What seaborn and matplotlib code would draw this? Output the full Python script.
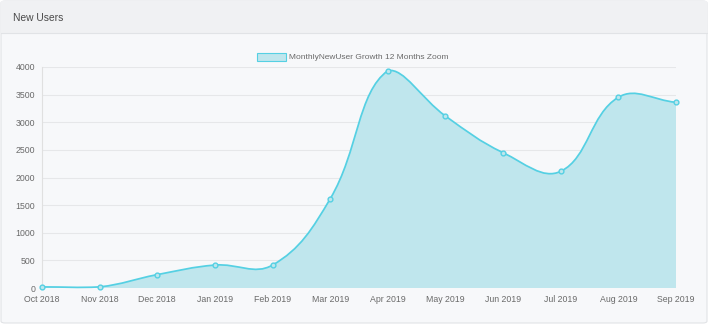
import numpy as np
import pandas as pd
import seaborn as sns
import matplotlib.pyplot as plt
from matplotlib.path import Path
from matplotlib.patches import PathPatch, FancyBboxPatch, Rectangle, Patch

# --- chart data ---
months = ["Oct 2018", "Nov 2018", "Dec 2018", "Jan 2019", "Feb 2019", "Mar 2019",
          "Apr 2019", "May 2019", "Jun 2019", "Jul 2019", "Aug 2019", "Sep 2019"]
new_users = [20, 20, 242, 415, 415, 1614, 3933, 3113, 2449, 2112, 3452, 3361]
y_ticks = [0, 500, 1000, 1500, 2000, 2500, 3000, 3500, 4000]
series_label = "MonthlyNewUser Growth 12 Months Zoom"
card_title = "New Users"

LINE = "#55d0e3"
FILL = "#bfe6ed"
TEXT = "#6a6a6a"

W, H = 710, 325
AX_L, AX_R, AX_T, AX_B = 42, 676, 67, 288


def spline_path(xs, ys, sx, sy, ymin, ymax, tension=0.4):
    """Chart.js style bezier through the points (distances measured in pixels)."""
    pts = np.column_stack([np.asarray(xs, float) * sx, np.asarray(ys, float) * sy])
    n = len(pts)
    cps = []
    for i in range(n):
        prev = pts[max(i - 1, 0)]
        cur = pts[i]
        nxt = pts[min(i + 1, n - 1)]
        d01 = np.hypot(*(cur - prev))
        d12 = np.hypot(*(nxt - cur))
        tot = d01 + d12
        s01 = d01 / tot if tot else 0
        s12 = d12 / tot if tot else 0
        cp_prev = cur - tension * s01 * (nxt - prev)
        cp_next = cur + tension * s12 * (nxt - prev)
        cps.append((cp_prev, cp_next))
    verts = [pts[0]]
    codes = [Path.MOVETO]
    for i in range(1, n):
        verts += [cps[i - 1][1], cps[i][0], pts[i]]
        codes += [Path.CURVE4] * 3
    verts = np.array(verts)
    verts[:, 0] /= sx
    verts[:, 1] /= sy
    verts[:, 1] = np.clip(verts[:, 1], ymin, ymax)
    verts[:, 0] = np.clip(verts[:, 0], xs[0], xs[-1])
    return verts, codes


df = pd.DataFrame({"month": months, "users": new_users})
df["pos"] = np.arange(len(df))

sns.set_style("white")
plt.rcParams["font.family"] = ["Liberation Sans", "DejaVu Sans"]

fig = plt.figure(figsize=(W / 100, H / 100), dpi=100, facecolor="white")

# card background, header band
card = FancyBboxPatch((1 / W, 2 / H), 706 / W, 322 / H,
                      boxstyle="round,pad=0,rounding_size=0.006",
                      transform=fig.transFigure, facecolor="#f7f8fa",
                      edgecolor="#e1e3e6", linewidth=0.8, zorder=-3)
fig.patches.append(card)
fig.patches.append(Rectangle((1.5 / W, (H - 33) / H), 705 / W, 32 / H,
                             transform=fig.transFigure, facecolor="#f0f1f3",
                             edgecolor="none", zorder=-2))
fig.lines.append(plt.Line2D([1 / W, 707 / W], [(H - 33) / H] * 2,
                            transform=fig.transFigure, color="#e1e3e6", lw=0.8,
                            zorder=-1))
fig.text(13 / W, 1 - 18 / H, card_title, fontsize=7.4, color="#4a4a4a",
         va="center", ha="left")

ax = fig.add_axes([AX_L / W, (H - AX_B) / H, (AX_R - AX_L) / W, (AX_B - AX_T) / H])
ax.set_facecolor("none")
ax.set_xlim(0, len(df) - 1)
ax.set_ylim(0, 4000)

sx = (AX_R - AX_L) / (len(df) - 1)
sy = (AX_B - AX_T) / 4000
verts, codes = spline_path(df["pos"].values, df["users"].values, sx, sy, 0, 4000)

fill_verts = np.vstack([verts, [[df["pos"].iloc[-1], 0], [df["pos"].iloc[0], 0], verts[0]]])
fill_codes = codes + [Path.LINETO, Path.LINETO, Path.CLOSEPOLY]
ax.add_patch(PathPatch(Path(fill_verts, fill_codes), facecolor=FILL,
                       edgecolor="none", zorder=2))
ax.add_patch(PathPatch(Path(verts, codes), facecolor="none", edgecolor=LINE,
                       linewidth=1.25, zorder=3, clip_on=False))

sns.scatterplot(data=df, x="pos", y="users", ax=ax, s=12, color=FILL,
                edgecolor=LINE, linewidth=1.0, zorder=4, clip_on=False, legend=False)

ax.set_yticks(y_ticks)
ax.set_yticklabels([str(v) for v in y_ticks])
ax.set_xticks(df["pos"])
ax.set_xticklabels(df["month"])
ax.grid(axis="y", color="#e6e7e9", linewidth=0.8)
ax.grid(axis="x", visible=False)
ax.set_axisbelow(True)
ax.tick_params(axis="y", length=4, width=0.8, color="#e0e0e0", pad=1,
               labelsize=6.3, labelcolor=TEXT)
ax.tick_params(axis="x", length=0, pad=5, labelsize=6.3, labelcolor=TEXT)
for side in ["top", "right", "bottom"]:
    ax.spines[side].set_visible(False)
ax.spines["left"].set_color("#e0e0e0")
ax.spines["left"].set_linewidth(0.8)
ax.set_xlabel("")
ax.set_ylabel("")

handle = Patch(facecolor=FILL, edgecolor=LINE, linewidth=0.8, label=series_label)
fig.legend(handles=[handle], loc="center", bbox_to_anchor=(353 / W, 1 - 57 / H),
           frameon=False, fontsize=6, handlelength=3.4, handleheight=1.1,
           handletextpad=0.4, labelcolor=TEXT)

fig.savefig("out.png", dpi=100, facecolor="white")
